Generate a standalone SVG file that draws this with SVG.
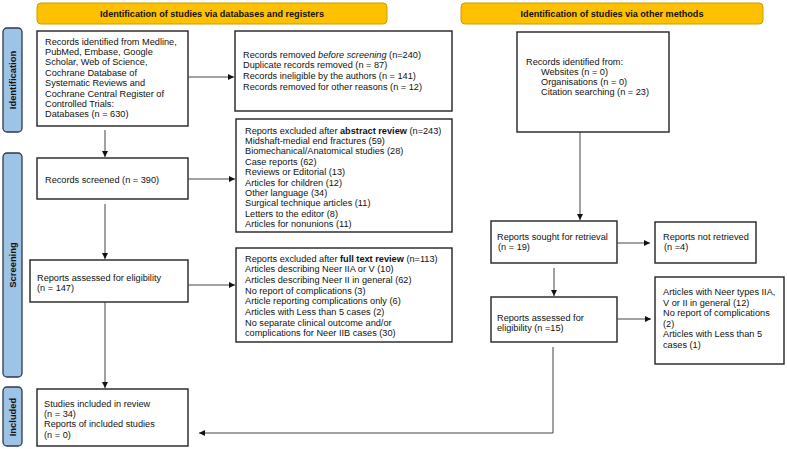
<svg xmlns="http://www.w3.org/2000/svg" width="787" height="449" viewBox="0 0 787 449">
<defs>
<style>
text{font-family:"Liberation Sans",Arial,sans-serif;fill:#111}
.t{font-size:9.2px}
.hdr{fill:#FFC000;stroke:#C8A000;stroke-width:1}
.ht{font-size:9.1px;font-weight:bold;text-anchor:middle}
.side{fill:#9DC3E6;stroke:#2E3A4A;stroke-width:1.3}
.st{font-size:9.4px;font-weight:bold;text-anchor:middle}
.box{fill:#fff;stroke:#222;stroke-width:1.4}
.c{fill:none;stroke:#444;stroke-width:1}
</style>
<marker id="ah" viewBox="0 0 10 10" refX="10" refY="5" markerWidth="6" markerHeight="6" markerUnits="userSpaceOnUse" orient="auto">
<path d="M0,0 L10,5 L0,10 z" fill="#111"/>
</marker>
</defs>

<g id="header-db"><rect class="hdr" x="37" y="3" width="350" height="21" rx="4"/><text class="ht" x="212" y="17">Identification of studies via databases and registers</text></g>
<g id="header-other"><rect class="hdr" x="461" y="3" width="302" height="21" rx="4"/><text class="ht" x="612" y="17">Identification of studies via other methods</text></g>

<g id="side-identification"><rect class="side" x="3" y="28" width="19" height="104" rx="4"/><text class="st" transform="translate(15.8,80) rotate(-90)">Identification</text></g>
<g id="side-screening"><rect class="side" x="3" y="153" width="19" height="224" rx="4"/><text class="st" transform="translate(15.8,265) rotate(-90)">Screening</text></g>
<g id="side-included"><rect class="side" x="3" y="387" width="19" height="59" rx="4"/><text class="st" transform="translate(15.8,417) rotate(-90)">Included</text></g>

<g id="records-identified"><rect class="box" x="37" y="31" width="151" height="95"/>
<text class="t" x="45" y="44.5">Records identified from Medline,</text>
<text class="t" x="45" y="54.9">PubMed, Embase, Google</text>
<text class="t" x="45" y="65.3">Scholar, Web of Science,</text>
<text class="t" x="45" y="75.7">Cochrane Database of</text>
<text class="t" x="45" y="86.1">Systematic Reviews and</text>
<text class="t" x="45" y="96.5">Cochrane Central Register of</text>
<text class="t" x="45" y="106.9">Controlled Trials:</text>
<text class="t" x="45" y="117.3">Databases (n = 630)</text>
</g>

<g id="records-removed"><rect class="box" x="235" y="31" width="217" height="80"/>
<text class="t" x="243" y="57.5">Records removed <tspan font-style="italic">before screening</tspan> (n=240)</text>
<text class="t" x="243" y="68.2">Duplicate records removed (n = 87)</text>
<text class="t" x="243" y="78.9">Records ineligible by the authors (n = 141)</text>
<text class="t" x="243" y="89.6">Records removed for other reasons (n = 12)</text>
</g>

<g id="abstract-excluded"><rect class="box" x="236" y="119" width="216" height="113"/>
<text class="t" x="245" y="133.5">Reports excluded after <tspan font-weight="bold">abstract review</tspan> (n=243)</text>
<text class="t" x="245" y="143.9">Midshaft-medial end fractures (59)</text>
<text class="t" x="245" y="154.3">Biomechanical/Anatomical studies (28)</text>
<text class="t" x="245" y="164.7">Case reports (62)</text>
<text class="t" x="245" y="175.1">Reviews or Editorial (13)</text>
<text class="t" x="245" y="185.5">Articles for children (12)</text>
<text class="t" x="245" y="195.9">Other language (34)</text>
<text class="t" x="245" y="206.3">Surgical technique articles (11)</text>
<text class="t" x="245" y="216.7">Letters to the editor (8)</text>
<text class="t" x="245" y="227.1">Articles for nonunions (11)</text>
</g>

<g id="records-screened"><rect class="box" x="37" y="158" width="151" height="41"/>
<text class="t" x="45" y="182.5">Records screened (n = 390)</text>
</g>

<g id="reports-assessed"><rect class="box" x="30" y="260" width="158" height="42"/>
<text class="t" x="37" y="280.5">Reports assessed for eligibility</text>
<text class="t" x="37" y="290.5">(n = 147)</text>
</g>

<g id="fulltext-excluded"><rect class="box" x="236" y="248" width="216" height="94"/>
<text class="t" x="245" y="261.5">Reports excluded after <tspan font-weight="bold">full text review</tspan> (n=113)</text>
<text class="t" x="245" y="272.2">Articles describing Neer IIA or V (10)</text>
<text class="t" x="245" y="282.9">Articles describing Neer II in general (62)</text>
<text class="t" x="245" y="293.6">No report of complications (3)</text>
<text class="t" x="245" y="304.3">Article reporting complications only (6)</text>
<text class="t" x="245" y="315">Articles with Less than 5 cases (2)</text>
<text class="t" x="245" y="325.7">No separate clinical outcome and/or</text>
<text class="t" x="245" y="336.4">complications for Neer IIB cases (30)</text>
</g>

<g id="studies-included"><rect class="box" x="37" y="389" width="151" height="57"/>
<text class="t" x="44" y="406.5">Studies included in review</text>
<text class="t" x="44" y="416.9">(n = 34)</text>
<text class="t" x="44" y="427.3">Reports of included studies</text>
<text class="t" x="44" y="437.7">(n = 0)</text>
</g>

<g id="other-records"><rect class="box" x="517" y="32" width="152" height="100"/>
<text class="t" x="526" y="64.5">Records identified from:</text>
<text class="t" x="541" y="74.5">Websites (n = 0)</text>
<text class="t" x="541" y="84.5">Organisations (n = 0)</text>
<text class="t" x="541" y="94.5">Citation searching (n = 23)</text>
</g>

<g id="sought-retrieval"><rect class="box" x="491" y="221" width="126" height="42"/>
<text class="t" x="497" y="240">Reports sought for retrieval</text>
<text class="t" x="498" y="249.5">(n = 19)</text>
</g>

<g id="not-retrieved"><rect class="box" x="655" y="222" width="101" height="41"/>
<text class="t" x="663" y="240">Reports not retrieved</text>
<text class="t" x="664" y="249.5">(n =4)</text>
</g>

<g id="other-assessed"><rect class="box" x="491" y="297" width="126" height="45"/>
<text class="t" x="497" y="320.5">Reports assessed for</text>
<text class="t" x="497" y="330.5">eligibility (n =15)</text>
</g>

<g id="other-excluded"><rect class="box" x="655" y="277" width="129" height="87"/>
<text class="t" x="663" y="295">Articles with Neer types IIA,</text>
<text class="t" x="663" y="305.5">V or II in general (12)</text>
<text class="t" x="663" y="316">No report of complications</text>
<text class="t" x="663" y="326.5">(2)</text>
<text class="t" x="663" y="337">Articles with Less than 5</text>
<text class="t" x="663" y="347.5">cases (1)</text>
</g>

<g id="connectors">
<line class="c" x1="188" y1="77" x2="234" y2="77" marker-end="url(#ah)"/>
<line class="c" x1="105" y1="130" x2="105" y2="157" marker-end="url(#ah)"/>
<line class="c" x1="188" y1="179" x2="235" y2="179" marker-end="url(#ah)"/>
<line class="c" x1="105" y1="204" x2="105" y2="259" marker-end="url(#ah)"/>
<line class="c" x1="188" y1="285" x2="235" y2="285" marker-end="url(#ah)"/>
<line class="c" x1="105" y1="302" x2="105" y2="388" marker-end="url(#ah)"/>
<line class="c" x1="580" y1="132" x2="580" y2="220" marker-end="url(#ah)"/>
<line class="c" x1="617" y1="243" x2="650" y2="243" marker-end="url(#ah)"/>
<line class="c" x1="554" y1="268" x2="554" y2="296" marker-end="url(#ah)"/>
<line class="c" x1="617" y1="319" x2="651" y2="319" marker-end="url(#ah)"/>
<polyline class="c" points="553,347 553,433 199,433" marker-end="url(#ah)"/>
</g>
</svg>
